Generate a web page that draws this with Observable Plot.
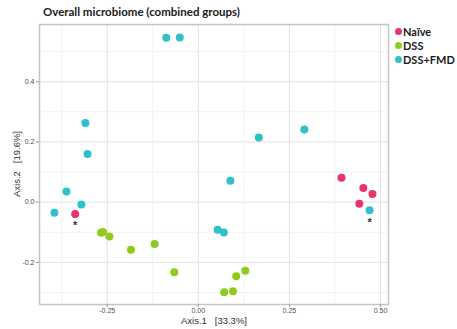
<!DOCTYPE html>
<html>
<head>
<meta charset="utf-8">
<script src="https://cdn.jsdelivr.net/npm/d3@7"></script>
<script src="https://cdn.jsdelivr.net/npm/@observablehq/plot@0.6"></script>
<style>
  html, body { margin: 0; padding: 0; background: #fff; }
  #wrap { position: relative; width: 457px; height: 329px; overflow: hidden; }
  #wrap svg { position: absolute; left: 0; top: 0; }
  .title { position: absolute; left: 43px; top: 5px; font: bold 11.5px Lato, "Open Sans", sans-serif; color: #1a1a1a; white-space: nowrap; }
  .legend { position: absolute; left: 395px; top: 25px; font: bold 11px Lato, "Open Sans", sans-serif; color: #1a1a1a; white-space: nowrap; }
  .legend .item { position: relative; height: 13.8px; line-height: 13.8px; padding-left: 8px; }
  .legend .sw { position: absolute; left: 0; top: 3.4px; width: 7px; height: 7px; border-radius: 50%; }
  .xlab { position: absolute; left: 0; width: 428px; top: 315px; line-height: 10px; text-align: center; font: 9.5px "Liberation Sans", Arial, sans-serif; color: #333; white-space: pre; }
  .ylab { position: absolute; left: 16px; top: 164px; line-height: 10px; transform: translate(-50%, -50%) rotate(-90deg); font: 9.5px "Liberation Sans", Arial, sans-serif; color: #333; white-space: pre; }
</style>
</head>
<body>
<div id="wrap"></div>
<script>
const groups = ["Naïve", "DSS", "DSS+FMD"];
const colors = ["#E8336F", "#8DCB1E", "#2CC2C8"];

const naiveX = [-0.338, 0.393, 0.453, 0.478, 0.442];
const naiveY = [-0.039, 0.081, 0.047, 0.027, -0.005];
const dssX = [-0.267, -0.262, -0.244, -0.185, -0.120, -0.066, 0.071, 0.095, 0.104, 0.129];
const dssY = [-0.102, -0.099, -0.114, -0.158, -0.139, -0.233, -0.299, -0.296, -0.246, -0.228];
const fmdX = [-0.310, -0.304, -0.362, -0.321, -0.395, -0.088, -0.051, 0.053, 0.070, 0.088, 0.166, 0.291, 0.470];
const fmdY = [0.263, 0.160, 0.035, -0.008, -0.035, 0.546, 0.547, -0.092, -0.101, 0.071, 0.215, 0.241, -0.027];
// points marked with an asterisk: [group, index]
const starred = [["Naïve", 0], ["DSS+FMD", 12]];

const xTicks = [-0.25, 0, 0.25, 0.5];
const yTicks = [-0.2, 0, 0.2, 0.4];
const xMinor = [-0.375, -0.125, 0.125, 0.375];
const yMinor = [-0.3, -0.1, 0.1, 0.3, 0.5];

const title = "Overall microbiome (combined groups)";
const xLabel = "Axis.1   [33.3%]";
const yLabel = "Axis.2   [19.6%]";

const series = {"Naïve": [naiveX, naiveY], "DSS": [dssX, dssY], "DSS+FMD": [fmdX, fmdY]};
const data = [];
for (const g of groups) {
  const [xs, ys] = series[g];
  xs.forEach((x, i) => data.push({group: g, x, y: ys[i], i}));
}
const stars = starred.map(([g, i]) => data.find(d => d.group === g && d.i === i));

const chart = Plot.plot({
  width: 457,
  height: 329,
  marginLeft: 39,
  marginRight: 69,
  marginTop: 24,
  marginBottom: 25,
  style: {fontFamily: "'Liberation Sans', Arial, sans-serif", background: "transparent"},
  x: {domain: [-0.436, 0.522]},
  y: {domain: [-0.340, 0.590]},
  color: {domain: groups, range: colors},
  marks: [
    Plot.gridX(xMinor, {stroke: "#f2f2f2", strokeOpacity: 1}),
    Plot.gridY(yMinor, {stroke: "#f2f2f2", strokeOpacity: 1}),
    Plot.gridX(xTicks, {stroke: "#e3e3e3", strokeOpacity: 1}),
    Plot.gridY(yTicks, {stroke: "#e3e3e3", strokeOpacity: 1}),
    Plot.frame({stroke: "#c4c4c4", strokeWidth: 1.5}),
    Plot.axisX(xTicks, {tickSize: 3, tickPadding: 1, fontSize: 7, fill: "#4d4d4d", stroke: "#999", label: null, tickFormat: d => d.toFixed(2)}),
    Plot.axisY(yTicks, {tickSize: 3, tickPadding: 2, fontSize: 7, fill: "#4d4d4d", stroke: "#999", label: null, tickFormat: d => d.toFixed(1)}),
    Plot.dot(data, {x: "x", y: "y", fill: "group", r: 4, stroke: "none"}),
    Plot.text(stars, {x: "x", y: "y", text: () => "*", dy: 12, fontSize: 11, fill: "#333", fontWeight: "bold"})
  ]
});

const wrap = document.getElementById("wrap");
wrap.appendChild(chart);

const t = document.createElement("div");
t.className = "title"; t.textContent = title; wrap.appendChild(t);

const lg = document.createElement("div");
lg.className = "legend";
groups.forEach((g, k) => {
  const it = document.createElement("div"); it.className = "item";
  const sw = document.createElement("span"); sw.className = "sw"; sw.style.background = colors[k];
  it.appendChild(sw); it.appendChild(document.createTextNode(g));
  lg.appendChild(it);
});
wrap.appendChild(lg);

const xl = document.createElement("div"); xl.className = "xlab"; xl.textContent = xLabel; wrap.appendChild(xl);
const yl = document.createElement("div"); yl.className = "ylab"; yl.textContent = yLabel; wrap.appendChild(yl);
</script>
</body>
</html>
